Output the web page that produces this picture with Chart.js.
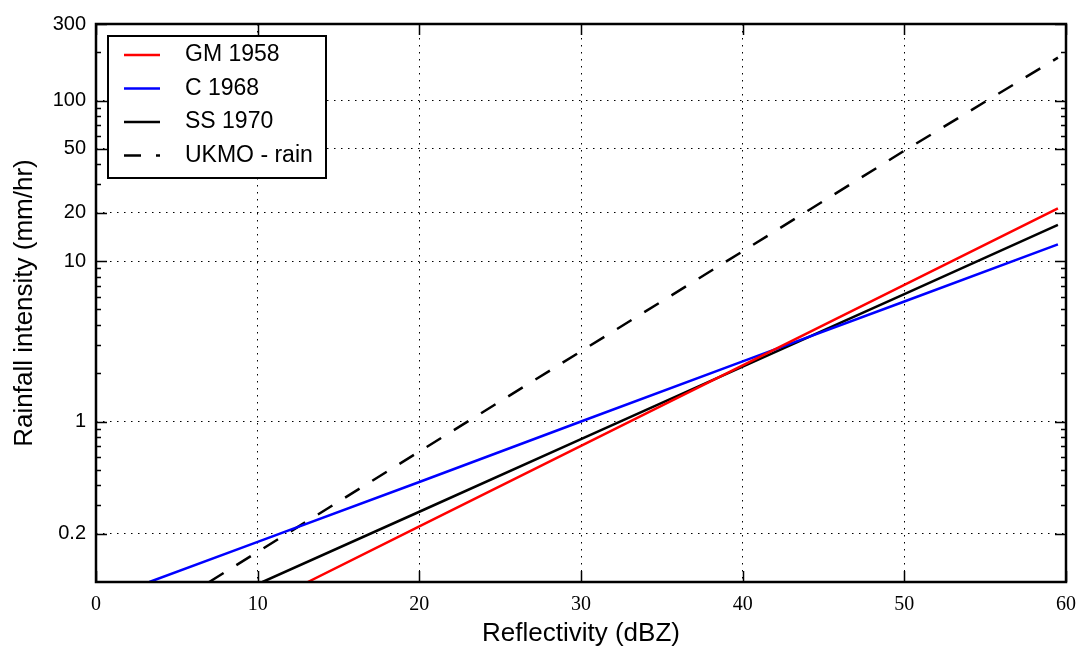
<!DOCTYPE html>
<html>
<head>
<meta charset="utf-8">
<script src="https://cdn.jsdelivr.net/npm/chart.js@4/dist/chart.umd.min.js"></script>
<style>
  body { margin: 0; background: #fff; }
  canvas { display: block; }
</style>
</head>
<body>
<canvas id="myChart" width="1078" height="649"></canvas>
<script>
// values (dBZ -> mm/hr)
var gmX = [13.1, 20, 30, 40, 50, 59.5]
var gmY = [0.1, 0.222, 0.705, 2.24, 7.1, 21.3]
var cX = [3.3, 10, 20, 30, 40, 50, 59.5]
var cY = [0.1, 0.178, 0.42, 1.0, 2.37, 5.6, 12.7]
var ssX = [10.3, 20, 30, 40, 50, 59.5]
var ssY = [0.1, 0.274, 0.776, 2.20, 6.23, 16.8]
var ukX = [7.0, 10, 20, 30, 40, 50, 59.5]
var ukY = [0.1, 0.154, 0.65, 2.74, 11.5, 48.7, 185]

var xTicks = [0, 10, 20, 30, 40, 50, 60]
var yTicks = [0.2, 1, 10, 20, 50, 100, 300]
var yMinor = [0.3, 0.4, 0.5, 0.6, 0.7, 0.8, 0.9, 2, 3, 4, 5, 6, 7, 8, 9, 30, 40, 60, 70, 80, 90, 200]

function pts(xs, ys){
    var out = []
    for(var i = 0; i < xs.length; i++){
        out.push({x: xs[i], y: ys[i]})
    }
    return out
}

// frame + inward ticks like the original
var framePlugin = {
    id: 'frame',
    afterDatasetsDraw: function(chart){
        var ctx = chart.ctx
        var a = chart.chartArea
        var xs = chart.scales.x
        var ys = chart.scales.y
        ctx.save()
        ctx.strokeStyle = '#000'
        ctx.lineWidth = 1.5
        ctx.beginPath()
        for(var i = 0; i < xTicks.length; i++){
            var px = Math.round(xs.getPixelForValue(xTicks[i])) + 0.5
            ctx.moveTo(px, a.bottom); ctx.lineTo(px, a.bottom - 11)
            ctx.moveTo(px, a.top); ctx.lineTo(px, a.top + 11)
        }
        for(var j = 0; j < yTicks.length; j++){
            var py = Math.round(ys.getPixelForValue(yTicks[j])) + 0.5
            ctx.moveTo(a.left, py); ctx.lineTo(a.left + 11, py)
            ctx.moveTo(a.right, py); ctx.lineTo(a.right - 11, py)
        }
        for(var k = 0; k < yMinor.length; k++){
            var my = Math.round(ys.getPixelForValue(yMinor[k])) + 0.5
            ctx.moveTo(a.left, my); ctx.lineTo(a.left + 5, my)
            ctx.moveTo(a.right, my); ctx.lineTo(a.right - 5, my)
        }
        ctx.stroke()
        ctx.lineWidth = 2.5
        ctx.strokeRect(a.left, a.top, a.right - a.left, a.bottom - a.top)

        // legend box
        var lx = a.left + 12
        var ly = a.top + 12
        ctx.fillStyle = '#fff'
        ctx.fillRect(lx, ly, 218, 142)
        ctx.lineWidth = 2
        ctx.strokeRect(lx, ly, 218, 142)
        ctx.font = '23px "Liberation Sans", Arial, sans-serif'
        ctx.textBaseline = 'middle'
        chart.data.datasets.forEach(function(ds, n){
            var cy = ly + 19 + n * 33.5
            ctx.strokeStyle = ds.borderColor
            ctx.lineWidth = 2.5
            ctx.setLineDash(ds.borderDash || [])
            ctx.beginPath()
            ctx.moveTo(lx + 16, cy)
            ctx.lineTo(lx + 52, cy)
            ctx.stroke()
            ctx.setLineDash([])
            ctx.fillStyle = '#000'
            ctx.fillText(ds.label, lx + 77, cy)
        })
        ctx.restore()
    }
}

var config = {
    type: 'line',
    data: {
        datasets: [
            {label: 'GM 1958', data: pts(gmX, gmY), borderColor: '#ff0000', borderWidth: 2.5, pointRadius: 0, tension: 0},
            {label: 'C 1968', data: pts(cX, cY), borderColor: '#0000ff', borderWidth: 2.5, pointRadius: 0, tension: 0},
            {label: 'SS 1970', data: pts(ssX, ssY), borderColor: '#000000', borderWidth: 2.5, pointRadius: 0, tension: 0},
            {label: 'UKMO - rain', data: pts(ukX, ukY), borderColor: '#000000', borderWidth: 2.5, borderDash: [17, 15], pointRadius: 0, tension: 0}
        ]
    },
    options: {
        responsive: false,
        animation: false,
        layout: {padding: {left: 0, top: 24, right: 12, bottom: 0}},
        plugins: {
            legend: {display: false},
            tooltip: {enabled: false}
        },
        scales: {
            x: {
                type: 'linear',
                min: 0,
                max: 60,
                afterBuildTicks: function(s){ s.ticks = xTicks.map(function(v){ return {value: v} }) },
                afterFit: function(s){ s.height = 67; s.paddingLeft = 0; s.paddingRight = 0 },
                grid: {color: '#000', lineWidth: 1, drawTicks: false},
                border: {display: false, dash: [1.5, 5.5]},
                ticks: {
                    color: '#000',
                    padding: 11,
                    maxRotation: 0,
                    font: {family: '"Liberation Serif", "DejaVu Serif", serif', size: 20}
                },
                title: {
                    display: true,
                    text: 'Reflectivity (dBZ)',
                    color: '#000',
                    padding: {top: 0, bottom: 0},
                    font: {family: '"Liberation Sans", Arial, sans-serif', size: 26}
                }
            },
            y: {
                type: 'logarithmic',
                min: 0.1,
                max: 300,
                afterBuildTicks: function(s){ s.ticks = yTicks.map(function(v){ return {value: v} }) },
                afterFit: function(s){ s.width = 96; s.paddingTop = 0; s.paddingBottom = 0 },
                grid: {color: '#000', lineWidth: 1, drawTicks: false},
                border: {display: false, dash: [1.5, 5.5]},
                ticks: {
                    color: '#000',
                    padding: 10,
                    font: {family: '"Liberation Sans", Arial, sans-serif', size: 20},
                    callback: function(v){ return String(v) }
                },
                title: {
                    display: true,
                    text: 'Rainfall intensity (mm/hr)',
                    color: '#000',
                    padding: {top: 9, bottom: 0},
                    font: {family: '"Liberation Sans", Arial, sans-serif', size: 26}
                }
            }
        }
    },
    plugins: [framePlugin]
}

var myChart = new Chart(document.getElementById('myChart'), config)
</script>
</body>
</html>
